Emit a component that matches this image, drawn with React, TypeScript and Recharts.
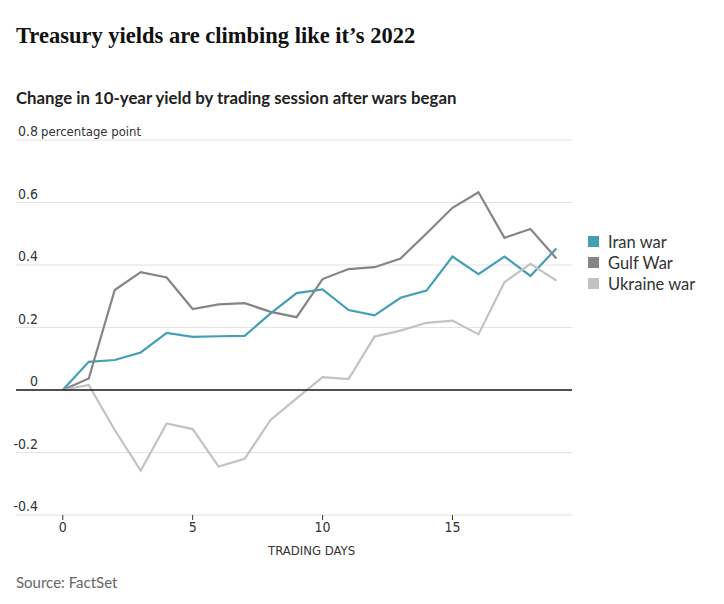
import React from 'react';
import { LineChart, Line, XAxis, YAxis, CartesianGrid, ReferenceLine } from 'recharts';

const days = [0, 1, 2, 3, 4, 5, 6, 7, 8, 9, 10, 11, 12, 13, 14, 15, 16, 17, 18, 19];
const iranWar = [0, 0.09, 0.096, 0.12, 0.183, 0.17, 0.172, 0.173, 0.245, 0.31, 0.322, 0.256, 0.239, 0.295, 0.318, 0.427, 0.371, 0.427, 0.365, 0.453];
const gulfWar = [0, 0.037, 0.32, 0.377, 0.36, 0.259, 0.274, 0.278, 0.25, 0.233, 0.355, 0.387, 0.393, 0.421, 0.501, 0.583, 0.633, 0.487, 0.515, 0.421];
const ukraineWar = [0, 0.016, -0.128, -0.258, -0.107, -0.125, -0.245, -0.22, -0.096, -0.027, 0.041, 0.035, 0.171, 0.19, 0.215, 0.222, 0.178, 0.345, 0.404, 0.35];

const yTicks = [-0.4, -0.2, 0, 0.2, 0.4, 0.6, 0.8];
const xTicks = [0, 5, 10, 15];

const seriesList = [
    { key: 'iran', name: 'Iran war', color: '#449fb6' },
    { key: 'gulf', name: 'Gulf War', color: '#858585' },
    { key: 'ukraine', name: 'Ukraine war', color: '#c2c2c2' },
];

const data = days.map((d, i) => ({
    day: d,
    iran: iranWar[i],
    gulf: gulfWar[i],
    ukraine: ukraineWar[i],
}));

const narrow = '"DejaVu Sans Condensed", "Roboto", sans-serif';
const sans = 'Lato, "Noto Sans", sans-serif';

// y labels sit above their gridline, right-aligned a bit inside the plot
const renderYTick = (props: any) => {
    const { y, payload } = props;
    const v = payload.value;
    const label = v === 0 ? '0' : v.toFixed(1);
    return (
        <g>
            <text x={38} y={y - 4} textAnchor="end" fontFamily={narrow} fontSize={14} fill="#333">{label}</text>
            {v === 0.8 && (
                <text x={41} y={y - 4} textAnchor="start" fontFamily={narrow} fontSize={13} fill="#333">percentage point</text>
            )}
        </g>
    );
};

const App: React.FC = () => {
    return (
        <div style={{ position: 'relative', width: 724, height: 604, margin: -8, background: '#fff', overflow: 'hidden' }}>
            <div style={{ position: 'absolute', left: 16, top: 23, fontFamily: '"Liberation Serif", serif', fontWeight: 'bold', fontSize: 22.5, color: '#111' }}>
                Treasury yields are climbing like it’s 2022
            </div>
            <div style={{ position: 'absolute', left: 16, top: 87, fontFamily: sans, fontWeight: 'bold', fontSize: 16.8, color: '#222' }}>
                Change in 10-year yield by trading session after wars began
            </div>
            <div style={{ position: 'absolute', left: 0, top: 0 }}>
                <LineChart width={724} height={604} data={data} margin={{ top: 140, right: 152, bottom: 59, left: 15 }}>
                    <CartesianGrid vertical={false} stroke="#e3e3e3" />
                    <XAxis
                        dataKey="day"
                        type="number"
                        domain={[-1.8, 19.6]}
                        ticks={xTicks}
                        allowDataOverflow
                        axisLine={false}
                        tickLine={{ stroke: '#333' }}
                        tickSize={5}
                        tick={{ fill: '#333', fontSize: 14, fontFamily: narrow }}
                        height={30}
                    />
                    <YAxis
                        type="number"
                        domain={[-0.4, 0.8]}
                        ticks={yTicks}
                        width={1}
                        axisLine={false}
                        tickLine={false}
                        tick={renderYTick}
                        interval={0}
                    />
                    {seriesList.map(s => (
                        <Line key={s.key} type="linear" dataKey={s.key} name={s.name} stroke={s.color} strokeWidth={2.2} dot={false} isAnimationActive={false} />
                    ))}
                    <ReferenceLine y={0} stroke="#1a1a1a" strokeWidth={1.4} />
                </LineChart>
            </div>
            <div style={{ position: 'absolute', left: 268, top: 543, fontFamily: narrow, fontSize: 13, color: '#333' }}>
                TRADING DAYS
            </div>
            <div style={{ position: 'absolute', left: 588, top: 231 }}>
                {seriesList.map(s => (
                    <div key={s.key} style={{ display: 'flex', alignItems: 'center', height: 21, fontFamily: sans, fontSize: 16.5, color: '#333' }}>
                        <span style={{ display: 'inline-block', width: 11, height: 11, background: s.color, marginRight: 9 }} />
                        {s.name}
                    </div>
                ))}
            </div>
            <div style={{ position: 'absolute', left: 16, top: 573, fontFamily: sans, fontSize: 15, color: '#666' }}>
                Source: FactSet
            </div>
        </div>
    );
};

export default App;
